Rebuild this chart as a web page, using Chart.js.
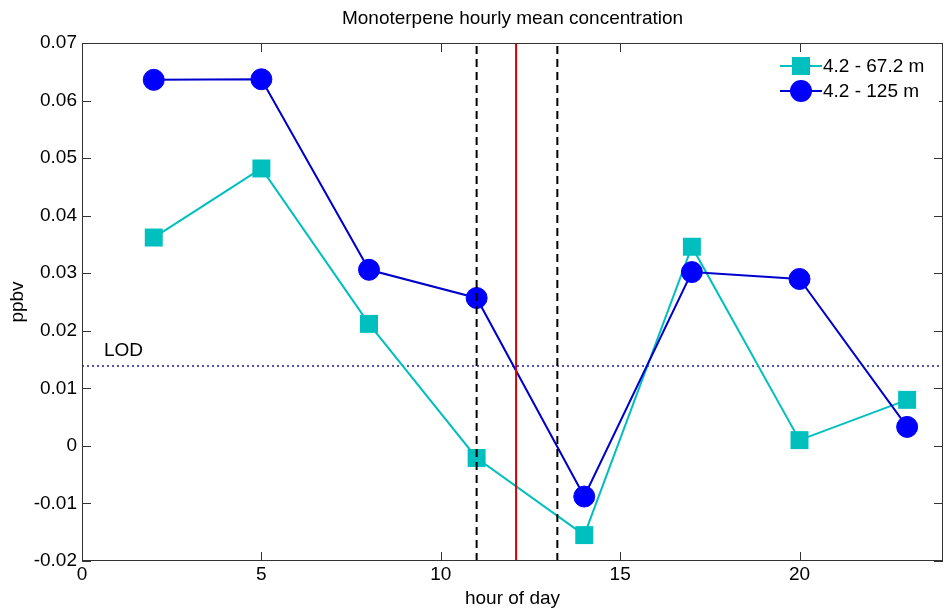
<!DOCTYPE html>
<html>
<head>
<meta charset="utf-8">
<script src="https://cdn.jsdelivr.net/npm/chart.js@4/dist/chart.umd.min.js"></script>
<style>
  html, body { margin: 0; padding: 0; background: #fff; }
  canvas { display: block; }
</style>
</head>
<body>
<canvas id="c" width="944" height="608"></canvas>
<script>
// Hour of day for each hourly mean
const hours = [2, 5, 8, 11, 14, 17, 20, 23];
// Monoterpene concentration (ppbv), 4.2 - 67.2 m gradient
const conc672 = [0.0362, 0.0482, 0.0212, -0.0021, -0.0155, 0.0346, 0.0010, 0.0080];
// Monoterpene concentration (ppbv), 4.2 - 125 m gradient
const conc125 = [0.0636, 0.0637, 0.0306, 0.0257, -0.0088, 0.0302, 0.0290, 0.0033];
// Limit of detection
const lodValue = 0.0139;
// Solar noon and the window around it
const noonHour = 12.1;
const windowHours = [11.0, 13.25];
// Axis ranges and ticks
const xRange = [0, 24];
const yRange = [-0.02, 0.07];
const xTicks = [0, 5, 10, 15, 20];
const yTicks = [-0.02, -0.01, 0, 0.01, 0.02, 0.03, 0.04, 0.05, 0.06, 0.07];
const yTickLabels = ['-0.02', '-0.01', '0', '0.01', '0.02', '0.03', '0.04', '0.05', '0.06', '0.07'];
const seriesNames = ['4.2 - 67.2 m', '4.2 - 125 m'];

const FONT = '"Liberation Sans", Arial, Helvetica, sans-serif';
const CYAN = '#00BFBF';
const BLUE = '#0000FF';
const BLUE_LINE = '#0000CC';

const pts = (xs, ys) => xs.map((x, i) => ({ x: x, y: ys[i] }));
const vline = x => [{ x: x, y: yRange[0] }, { x: x, y: yRange[1] }];

const frame = {
  id: 'frame',
  afterDraw(chart) {
    const ctx = chart.ctx;
    const a = chart.chartArea;
    const xs = chart.scales.x, ys = chart.scales.y;
    ctx.save();
    // axes box
    ctx.strokeStyle = '#333';
    ctx.lineWidth = 1;
    ctx.strokeRect(a.left + 0.5, a.top + 0.5, a.right - a.left - 1, a.bottom - a.top - 1);
    // inward ticks on all four sides
    const tl = 9;
    ctx.beginPath();
    xTicks.forEach(v => {
      const px = Math.round(xs.getPixelForValue(v)) + 0.5;
      ctx.moveTo(px, a.bottom); ctx.lineTo(px, a.bottom - tl);
      ctx.moveTo(px, a.top); ctx.lineTo(px, a.top + tl);
    });
    yTicks.forEach(v => {
      const py = Math.round(ys.getPixelForValue(v)) + 0.5;
      ctx.moveTo(a.left, py); ctx.lineTo(a.left + tl, py);
      ctx.moveTo(a.right, py); ctx.lineTo(a.right - tl, py);
    });
    ctx.stroke();

    ctx.fillStyle = '#000';
    ctx.font = '19px ' + FONT;
    // x tick labels
    ctx.textAlign = 'center';
    ctx.textBaseline = 'top';
    xTicks.forEach(v => ctx.fillText(String(v), xs.getPixelForValue(v), a.bottom + 4));
    // y tick labels
    ctx.textAlign = 'right';
    ctx.textBaseline = 'middle';
    yTicks.forEach((v, i) => ctx.fillText(yTickLabels[i], a.left - 5, ys.getPixelForValue(v)));

    // title and axis titles
    ctx.textAlign = 'center';
    ctx.fillText('Monoterpene hourly mean concentration', (a.left + a.right) / 2, 19);
    ctx.fillText('hour of day', (a.left + a.right) / 2, 599);
    ctx.save();
    ctx.translate(18, 302);
    ctx.rotate(-Math.PI / 2);
    ctx.fillText('ppbv', 0, 0);
    ctx.restore();

    // LOD label
    ctx.textAlign = 'left';
    ctx.fillText('LOD', 104, ys.getPixelForValue(lodValue) - 15);

    // legend
    ctx.fillStyle = '#fff';
    ctx.fillRect(775, 52, 164, 50);
    const rows = [
      { y: 66, color: CYAN, line: CYAN, shape: 'rect' },
      { y: 91, color: BLUE, line: BLUE_LINE, shape: 'circle' }
    ];
    rows.forEach((r, i) => {
      ctx.strokeStyle = r.line;
      ctx.lineWidth = 2;
      ctx.beginPath();
      ctx.moveTo(780, r.y); ctx.lineTo(822, r.y);
      ctx.stroke();
      ctx.fillStyle = r.color;
      ctx.beginPath();
      if (r.shape === 'rect') {
        ctx.rect(801 - 9, r.y - 9, 18, 18);
      } else {
        ctx.arc(801, r.y, 11, 0, Math.PI * 2);
      }
      ctx.fill();
      ctx.fillStyle = '#000';
      ctx.textBaseline = 'middle';
      ctx.fillText(seriesNames[i], 823, r.y + 1);
    });
    ctx.restore();
  }
};

new Chart(document.getElementById('c'), {
  type: 'scatter',
  data: {
    datasets: [
      {
        label: 'noon',
        data: vline(noonHour),
        showLine: true, borderColor: '#D40000', borderWidth: 2,
        pointRadius: 0, order: -2
      },
      {
        label: 'window start',
        data: vline(windowHours[0]),
        showLine: true, borderColor: '#000', borderWidth: 2, borderDash: [8, 5],
        pointRadius: 0, order: -1
      },
      {
        label: 'window end',
        data: vline(windowHours[1]),
        showLine: true, borderColor: '#000', borderWidth: 2, borderDash: [8, 5],
        pointRadius: 0, order: -1
      },
      {
        label: 'LOD',
        data: [{ x: xRange[0], y: lodValue }, { x: xRange[1], y: lodValue }],
        showLine: true, borderColor: '#1a1aa0', borderWidth: 1.5, borderDash: [2, 3],
        pointRadius: 0, order: 3
      },
      {
        label: seriesNames[1],
        data: pts(hours, conc125),
        showLine: true, borderColor: BLUE_LINE, borderWidth: 2,
        pointStyle: 'circle', pointRadius: 10.5, pointBorderWidth: 1,
        pointBackgroundColor: BLUE, pointBorderColor: BLUE, order: 0
      },
      {
        label: seriesNames[0],
        data: pts(hours, conc672),
        showLine: true, borderColor: CYAN, borderWidth: 2,
        pointStyle: 'rect', pointRadius: 12.7, pointBorderWidth: 0,
        pointBackgroundColor: CYAN, pointBorderColor: CYAN, order: 1
      }
    ]
  },
  options: {
    responsive: false,
    animation: false,
    layout: { autoPadding: false, padding: { left: 82, right: 1, top: 43, bottom: 47 } },
    plugins: { legend: { display: false }, tooltip: { enabled: false }, title: { display: false } },
    scales: {
      x: { type: 'linear', min: xRange[0], max: xRange[1], display: false },
      y: { type: 'linear', min: yRange[0], max: yRange[1], display: false }
    },
    elements: { line: { tension: 0 } }
  },
  plugins: [frame]
});
</script>
</body>
</html>
